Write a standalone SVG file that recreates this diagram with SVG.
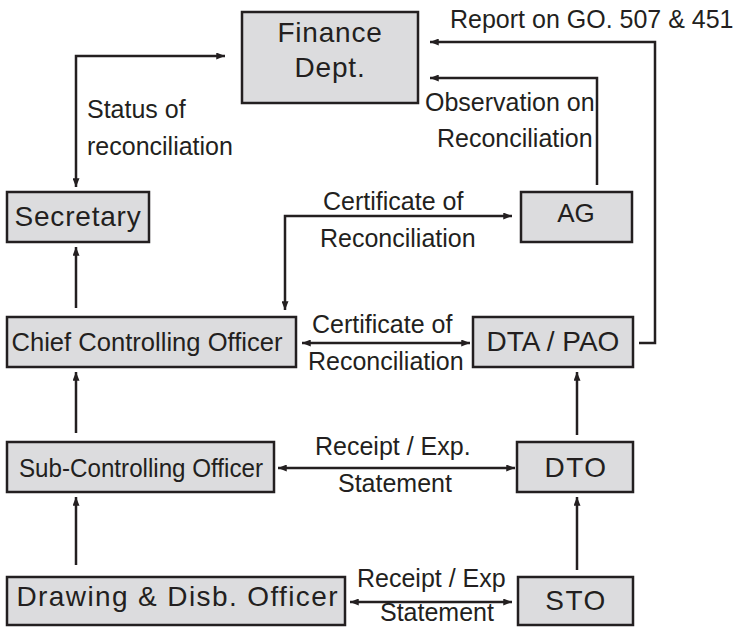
<svg xmlns="http://www.w3.org/2000/svg" width="744" height="627" viewBox="0 0 744 627">
<style>
.box{fill:#dcdcde;stroke:#231f20;stroke-width:2.5}
.nt{font-family:"Liberation Sans",Arial,sans-serif;fill:#231f20;text-anchor:middle}
.lb{font-family:"Liberation Sans",Arial,sans-serif;fill:#231f20;font-size:25px}
.ln{fill:none;stroke:#231f20;stroke-width:2.5}
</style>
<defs>
<marker id="ah" viewBox="0 0 10 8" markerWidth="10" markerHeight="7" refX="10" refY="4" orient="auto-start-reverse" markerUnits="userSpaceOnUse">
<path d="M0,0 L10,4 L0,8 z" fill="#231f20"/>
</marker>
</defs>
<rect width="744" height="627" fill="#ffffff"/>
<g id="finance"><rect class="box" x="242" y="12" width="176" height="91"/><text class="nt" x="330" y="42" font-size="28" letter-spacing="0.8">Finance</text><text class="nt" x="330" y="77" font-size="28" letter-spacing="0.8">Dept.</text></g>
<g id="secretary"><rect class="box" x="7" y="192" width="142" height="50"/><text class="nt" x="78" y="226" font-size="28" letter-spacing="0.8">Secretary</text></g>
<g id="ag"><rect class="box" x="521" y="192" width="111" height="50"/><text class="nt" x="576" y="222" font-size="26">AG</text></g>
<g id="cco"><rect class="box" x="7" y="317" width="289" height="50"/><text class="nt" x="147" y="351" font-size="26" textLength="271" lengthAdjust="spacingAndGlyphs">Chief Controlling Officer</text></g>
<g id="dta"><rect class="box" x="473" y="317" width="160" height="50"/><text class="nt" x="553" y="351" font-size="28">DTA / PAO</text></g>
<g id="sco"><rect class="box" x="7" y="442" width="267" height="50"/><text class="nt" x="141" y="477" font-size="26" textLength="244" lengthAdjust="spacingAndGlyphs">Sub-Controlling Officer</text></g>
<g id="dto"><rect class="box" x="517" y="442" width="116" height="50"/><text class="nt" x="576" y="477" font-size="28" letter-spacing="1.5">DTO</text></g>
<g id="ddo"><rect class="box" x="7" y="577" width="338" height="48"/><text class="nt" x="177" y="606" font-size="28" textLength="321" lengthAdjust="spacing">Drawing &amp; Disb. Officer</text></g>
<g id="sto"><rect class="box" x="518" y="577" width="115" height="48"/><text class="nt" x="576" y="610" font-size="28" letter-spacing="1.5">STO</text></g>
<g id="connectors">
<path class="ln" d="M76,187 V56 H225" marker-start="url(#ah)" marker-end="url(#ah)"/>
<path class="ln" d="M285,310 V216 H512" marker-start="url(#ah)" marker-end="url(#ah)"/>
<path class="ln" d="M597,185 V78 H430" marker-end="url(#ah)"/>
<path class="ln" d="M639,343 H655 V42 H430" marker-end="url(#ah)"/>
<path class="ln" d="M76,308 V247" marker-end="url(#ah)"/>
<path class="ln" d="M76,433 V372" marker-end="url(#ah)"/>
<path class="ln" d="M76,565 V497" marker-end="url(#ah)"/>
<path class="ln" d="M577,435 V372" marker-end="url(#ah)"/>
<path class="ln" d="M577,570 V497" marker-end="url(#ah)"/>
<path class="ln" d="M302,343 H470" marker-start="url(#ah)" marker-end="url(#ah)"/>
<path class="ln" d="M278,468 H515" marker-start="url(#ah)" marker-end="url(#ah)"/>
<path class="ln" d="M350,602 H512" marker-start="url(#ah)" marker-end="url(#ah)"/>
</g>
<g id="labels">
<text class="lb" x="450" y="28">Report on GO. 507 &amp; 451</text>
<text class="lb" x="425" y="111">Observation on</text>
<text class="lb" x="437" y="147">Reconciliation</text>
<text class="lb" x="87" y="118">Status of</text>
<text class="lb" x="87" y="155">reconciliation</text>
<text class="lb" x="323" y="210">Certificate of</text>
<text class="lb" x="320" y="247">Reconciliation</text>
<text class="lb" x="312" y="333">Certificate of</text>
<text class="lb" x="308" y="370">Reconciliation</text>
<text class="lb" x="315" y="455">Receipt / Exp.</text>
<text class="lb" x="338" y="492">Statement</text>
<text class="lb" x="357" y="587">Receipt / Exp</text>
<text class="lb" x="380" y="621">Statement</text>
</g>
</svg>
